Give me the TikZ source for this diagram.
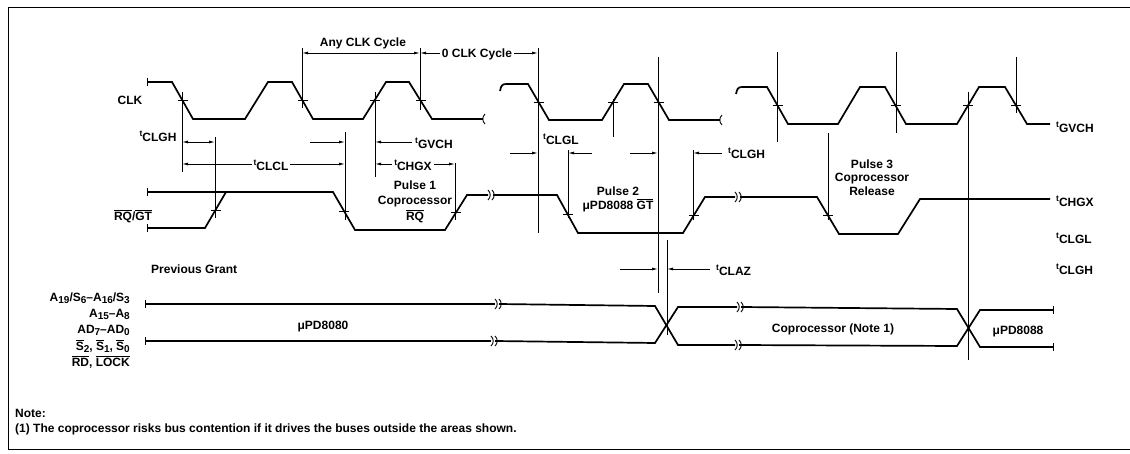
\documentclass[tikz,border=0pt]{standalone}
\usepackage{fontspec}
\setmainfont{Liberation Sans}
\usetikzlibrary{arrows.meta}

\newcommand{\tpar}[1]{\raisebox{0.45ex}{\fontsize{8.5}{8.5}\selectfont t}\raisebox{-0.3ex}{#1}}
\newcommand{\ssub}[1]{\raisebox{-0.4ex}{\fontsize{10}{10}\selectfont #1}}
\newcommand{\ovl}[1]{$\overline{\mbox{#1}}$}

\begin{document}
\begin{tikzpicture}[x=1pt,y=-1pt]
	\tikzstyle{every node}=[font=\fontsize{12}{14}\selectfont\bfseries ,inner sep=0pt ,text height=8.6pt ,text depth=0pt]
	\tikzstyle{sig}=[line width=1.7pt ,line join=miter]
	\tikzstyle{guide}=[line width=0.9pt]
	\tikzstyle{dim}=[line width=0.9pt ,>={Latex[length=6pt,width=3pt]}]
	\tikzstyle{hot}=[fill=white ,inner xsep=2pt]
	\useasboundingbox (0,0) rectangle (1130,454);

	%% frame
	\draw [line width=1pt] (1135,8) -- (8,8) -- (8,449) -- (1135,449);

	%% CLK
	\draw [sig] (147,82) -- (172,82) -- (193,119) -- (245,119) -- (268,82) -- (292,82) -- (313,119) -- (363,119) -- (386,82) -- (409,82) -- (432,119) -- (483,119);
	\draw [sig] (500,91) .. controls (501,86) and (502,84) .. (506,84) -- (528,84) -- (549,120) -- (602,120) -- (624,84) -- (648,84) -- (669,120) -- (720,120);
	\draw [sig] (736,94) .. controls (737,89) and (738,87) .. (742,87) -- (767,87) -- (788,124) -- (838,124) -- (860,87) -- (885,87) -- (906,124) -- (957,124) -- (979,87) -- (1005,87) -- (1027,124) -- (1050,124);
	\draw [guide] (147,78) -- (147,86);
	\draw [guide] (485,114) .. controls (482,117) and (482,121) .. (485,124);
	\draw [guide] (722,115) .. controls (719,118) and (719,122) .. (722,125);

	%% RQ/GT
	\draw [sig] (147,192) -- (333,192) -- (355,230) -- (445,230) -- (467,195) -- (488,195);
	\draw [sig] (147,228) -- (205,228) -- (226,192);
	\draw [sig] (493,195) -- (557,195) -- (578,233) -- (683,233) -- (705,197) -- (735,197);
	\draw [sig] (740,197) -- (817,197) -- (839,234) -- (898,234) -- (920,199) -- (1050,199);
	\draw [guide] (147,188) -- (147,196);
	\draw [guide] (147,224) -- (147,232);
	\draw [guide] (488,190) .. controls (491,193) and (491,197) .. (488,200);
	\draw [guide] (492,190) .. controls (495,193) and (495,197) .. (492,200);
	\draw [guide] (735,192) .. controls (738,195) and (738,199) .. (735,202);
	\draw [guide] (739,192) .. controls (742,195) and (742,199) .. (739,202);

	%% buses
	\draw [sig] (145,304) -- (495,304);
	\draw [sig] (499,304) -- (655,306) -- (678,345) -- (735,345);
	\draw [sig] (739,345) -- (957,346) -- (980,310) -- (1053,310);
	\draw [sig] (145,341) -- (491,341);
	\draw [sig] (495,341) -- (655,343) -- (678,307) -- (737,307);
	\draw [sig] (741,307) -- (957,309) -- (980,347) -- (1053,347);
	\draw [guide] (145,300) -- (145,308);
	\draw [guide] (145,337) -- (145,345);
	\draw [guide] (1053,306) -- (1053,314);
	\draw [guide] (1053,343) -- (1053,351);
	\draw [guide] (495,299) .. controls (498,302) and (498,306) .. (495,309);
	\draw [guide] (499,299) .. controls (502,302) and (502,306) .. (499,309);
	\draw [guide] (491,336) .. controls (494,339) and (494,343) .. (491,346);
	\draw [guide] (495,336) .. controls (498,339) and (498,343) .. (495,346);
	\draw [guide] (735,340) .. controls (738,343) and (738,347) .. (735,350);
	\draw [guide] (739,340) .. controls (742,343) and (742,347) .. (739,350);
	\draw [guide] (737,302) .. controls (740,305) and (740,309) .. (737,312);
	\draw [guide] (741,302) .. controls (744,305) and (744,309) .. (741,312);

	%% edge marks
	\draw [guide] (177.5,100.5) -- (187.5,100.5);
	\draw [guide] (297.5,100.5) -- (307.5,100.5);
	\draw [guide] (369.5,100.5) -- (379.5,100.5);
	\draw [guide] (415.5,100.5) -- (425.5,100.5);
	\draw [guide] (533.5,102) -- (543.5,102);
	\draw [guide] (608,102) -- (618,102);
	\draw [guide] (653.5,102) -- (663.5,102);
	\draw [guide] (772.5,105.5) -- (782.5,105.5);
	\draw [guide] (890.5,105.5) -- (900.5,105.5);
	\draw [guide] (963,105.5) -- (973,105.5);
	\draw [guide] (1011,105.5) -- (1021,105.5);
	\draw [guide] (210.5,210) -- (220.5,210);
	\draw [guide] (339,211) -- (349,211);
	\draw [guide] (451,212.5) -- (461,212.5);
	\draw [guide] (562.5,214) -- (572.5,214);
	\draw [guide] (689,215) -- (699,215);
	\draw [guide] (823,215.5) -- (833,215.5);

	%% reference lines
	\draw [guide] (182,92) -- (182,172);
	\draw [guide] (215,137) -- (215,218);
	\draw [guide] (302,48) -- (302,108);
	\draw [guide] (345,132) -- (345,220);
	\draw [guide] (375,92) -- (375,177);
	\draw [guide] (420,48) -- (420,110);
	\draw [guide] (455,163) -- (455,220);
	\draw [guide] (538,48) -- (538,233);
	\draw [guide] (568,150) -- (568,218);
	\draw [guide] (613,99) -- (613,137);
	\draw [guide] (658,57) -- (658,293);
	\draw [guide] (667,240) -- (667,335);
	\draw [guide] (693,150) -- (693,220);
	\draw [guide] (777,52) -- (777,142);
	\draw [guide] (828,133) -- (828,220);
	\draw [guide] (896,52) -- (896,133);
	\draw [guide] (968,92) -- (968,360);
	\draw [guide] (1016,57) -- (1016,113);

	%% timings
	\draw [dim ,<->] (302,53) -- (420,53);
	\draw [dim ,<->] (420,53) -- (538,53);
	\draw [dim ,<->] (182,142) -- (215,142);
	\draw [dim ,<->] (182,164) -- (345,164);
	\draw [dim ,->] (310,142) -- (345,142);
	\draw [dim ,->] (412,142) -- (375,142);
	\draw [dim ,<->] (375,164) -- (455,164);
	\draw [dim ,->] (510,153) -- (538,153);
	\draw [dim ,->] (592,153) -- (568,153);
	\draw [dim ,->] (630,153) -- (658,153);
	\draw [dim ,->] (722,153) -- (693,153);
	\draw [dim ,->] (620,269) -- (658,269);
	\draw [dim ,->] (710,269) -- (667,269);

	%% labels
	\node (anycyc) at (363,42) {Any CLK Cycle};
	\node [hot] (zerocyc) at (477,53) {0 CLK Cycle};
	\node (clk) at (130,100) {CLK};
	\node (rqgt) at (133,216) {\ovl{RQ}/\ovl{GT}};
	\node (tclgha) at (158,135) {\tpar{CLGH}};
	\node [hot] (tclcl) at (271,164) {\tpar{CLCL}};
	\node [anchor=west] (tgvcha) at (415,142) {\tpar{GVCH}};
	\node [hot] (tchgxa) at (413,164) {\tpar{CHGX}};
	\node (pulsea) at (415,185) {Pulse 1};
	\node (pulseb) at (415,200) {Coprocessor};
	\node (pulsec) at (415,216) {\ovl{RQ}};
	\node [anchor=west] (tclgla) at (543,138) {\tpar{CLGL}};
	\node (pulsed) at (618,191) {Pulse 2};
	\node (pulsee) at (618,205) {μPD8088 \ovl{GT}};
	\node [anchor=west] (tclghb) at (728,152) {\tpar{CLGH}};
	\node [anchor=west] (tclaz) at (716,269) {\tpar{CLAZ}};
	\node (pulsef) at (872,164) {Pulse 3};
	\node (pulseg) at (872,177) {Coprocessor};
	\node (pulseh) at (872,191) {Release};
	\node [anchor=west] (tgvchb) at (1056,126) {\tpar{GVCH}};
	\node [anchor=west] (tchgxb) at (1056,200) {\tpar{CHGX}};
	\node [anchor=west] (tclglb) at (1056,237) {\tpar{CLGL}};
	\node [anchor=west] (tclghc) at (1056,268) {\tpar{CLGH}};
	\node [anchor=west] (prevgrant) at (151,269) {Previous Grant};
	\node (pda) at (323,325) {μPD8080};
	\node (copnote) at (833,328) {Coprocessor (Note 1)};
	\node (pdb) at (1018,330) {μPD8088};
	\node [anchor=east] (busa) at (130,297) {A\ssub{19}/S\ssub{6}–A\ssub{16}/S\ssub{3}};
	\node [anchor=east] (busb) at (130,313) {A\ssub{15}–A\ssub{8}};
	\node [anchor=east] (busc) at (130,329) {AD\ssub{7}–AD\ssub{0}};
	\node [anchor=east] (busd) at (130,346) {\ovl{S}\ssub{2}, \ovl{S}\ssub{1}, \ovl{S}\ssub{0}};
	\node [anchor=east] (buse) at (130,362) {\ovl{RD}, \ovl{LOCK}};
	\node [anchor=west] (notea) at (15,413) {Note:};
	\node [anchor=west] (noteb) at (15,428) {(1) The coprocessor risks bus contention if it drives the buses outside the areas shown.};

\end{tikzpicture}
\end{document}
